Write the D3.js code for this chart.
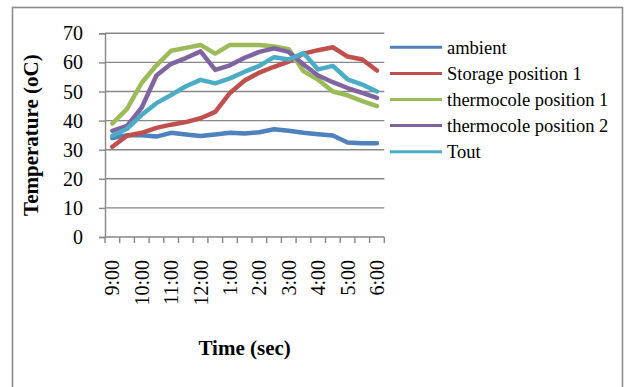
<!DOCTYPE html>
<html>
<head>
<meta charset="utf-8">
<script src="https://cdn.jsdelivr.net/npm/d3@7"></script>
<style>
  html, body { margin: 0; padding: 0; background: #fff; }
  svg { display: block; }
  text { font-family: "Liberation Serif", "Times New Roman", serif; fill: #000; }
</style>
</head>
<body>
<svg id="chart" width="626" height="387"></svg>
<script>
// Half-hourly readings, 9:00 to 6:00
const times = ["9:00","9:30","10:00","10:30","11:00","11:30","12:00","12:30","1:00","1:30",
               "2:00","2:30","3:00","3:30","4:00","4:30","5:00","5:30","6:00"];
const ambient      = [34, 35, 35, 34.5, 35.8, 35.2, 34.7, 35.2, 35.8, 35.6, 36, 37, 36.5, 35.8, 35.3, 34.9, 32.5, 32.2, 32.2];
const storagePos1  = [31, 34.8, 35.8, 37.5, 38.6, 39.5, 40.8, 43, 49.5, 53.8, 56.5, 58.5, 60.3, 63, 64.2, 65.2, 62, 61, 57.2];
const thermoPos1   = [39, 44, 53, 59, 64, 65, 66, 63, 66, 66, 66, 65.5, 64.5, 57, 54, 50, 48.7, 46.7, 45];
const thermoPos2   = [36.5, 38.2, 44.5, 55.5, 59.5, 61.5, 63.8, 57.4, 59, 61.6, 63.6, 64.8, 63.6, 59.3, 55.5, 53.2, 51.2, 49.5, 47.8];
const tout         = [34.8, 37.2, 42, 46, 48.8, 51.8, 54, 52.8, 54.5, 56.8, 58.8, 61.8, 61, 63.2, 57.6, 58.8, 54.2, 52.4, 50];

const seriesNames  = ["ambient", "Storage position 1", "thermocole position 1", "thermocole position 2", "Tout"];
const seriesColors = ["#4F81BD", "#C0504D", "#9BBB59", "#8064A2", "#4BACC6"];
const yTicks = [0, 10, 20, 30, 40, 50, 60, 70];

const series = [ambient, storagePos1, thermoPos1, thermoPos2, tout];

const svg = d3.select("#chart");
const plot = { left: 105, right: 384.3, top: 33.3, bottom: 237 };
const gridColor = "#878787";

// Chart frame
svg.append("rect")
  .attr("x", 12.5).attr("y", 7.5)
  .attr("width", 610).attr("height", 400)
  .attr("fill", "#fff").attr("stroke", "#8c8c8c").attr("stroke-width", 1.6);

const x = d3.scaleBand().domain(times).range([plot.left, plot.right]).paddingInner(0).paddingOuter(0);
const y = d3.scaleLinear().domain([0, 70]).range([plot.bottom, plot.top]);

// Horizontal gridlines with outside tick marks
const yAxis = d3.axisLeft(y).tickValues(yTicks).tickSize(6).tickFormat("");
const gy = svg.append("g").attr("transform", `translate(${plot.left},0)`).call(yAxis);
gy.select(".domain").attr("stroke", gridColor).attr("stroke-width", 1.4);
gy.selectAll(".tick line").attr("stroke", gridColor).attr("stroke-width", 1.4);
svg.append("g").selectAll("line").data(yTicks.filter(d => d > 0)).join("line")
  .attr("x1", plot.left).attr("x2", plot.right)
  .attr("y1", d => y(d)).attr("y2", d => y(d))
  .attr("stroke", gridColor).attr("stroke-width", 1.4);

svg.append("g").selectAll("text").data(yTicks).join("text")
  .attr("x", 83).attr("y", d => y(d))
  .attr("text-anchor", "end").attr("dominant-baseline", "central")
  .attr("font-size", 20).text(d => d);

// Category axis: ticks between categories
const boundaries = d3.range(times.length + 1).map(i => plot.left + i * x.bandwidth());
const gx = svg.append("g");
gx.append("line")
  .attr("x1", plot.left).attr("x2", plot.right)
  .attr("y1", plot.bottom).attr("y2", plot.bottom)
  .attr("stroke", gridColor).attr("stroke-width", 1.4);
gx.selectAll("line.tk").data(boundaries).join("line").attr("class", "tk")
  .attr("x1", d => d).attr("x2", d => d)
  .attr("y1", plot.bottom).attr("y2", plot.bottom + 6)
  .attr("stroke", gridColor).attr("stroke-width", 1.4);

gx.selectAll("text").data(times.filter((t, i) => i % 2 === 0)).join("text")
  .attr("transform", d => `translate(${x(d) + x.bandwidth() / 2},260) rotate(-90)`)
  .attr("text-anchor", "end").attr("dominant-baseline", "central")
  .attr("font-size", 20).text(d => d);

// Axis titles
svg.append("text")
  .attr("transform", `translate(31,${(plot.top + plot.bottom) / 2}) rotate(-90)`)
  .attr("text-anchor", "middle").attr("dominant-baseline", "central")
  .attr("font-size", 21).attr("font-weight", "bold")
  .text("Temperature (oC)");
svg.append("text")
  .attr("x", (plot.left + plot.right) / 2).attr("y", 355)
  .attr("text-anchor", "middle")
  .attr("font-size", 21).attr("font-weight", "bold")
  .text("Time (sec)");

// Series lines
const line = d3.line()
  .x((d, i) => x(times[i]) + x.bandwidth() / 2)
  .y(d => y(d));
svg.append("g").selectAll("path").data(series).join("path")
  .attr("d", d => line(d))
  .attr("fill", "none")
  .attr("stroke", (d, i) => seriesColors[i])
  .attr("stroke-width", 4.5)
  .attr("stroke-linejoin", "round")
  .attr("stroke-linecap", "round");

// Legend
const legend = svg.append("g");
seriesNames.forEach((name, i) => {
  const ly = 47.3 + i * 26.1;
  legend.append("line")
    .attr("x1", 390).attr("x2", 442).attr("y1", ly).attr("y2", ly)
    .attr("stroke", seriesColors[i]).attr("stroke-width", 3);
  legend.append("text")
    .attr("x", 447).attr("y", ly + 6.5)
    .attr("font-size", 18.5).text(name);
});
</script>
</body>
</html>
